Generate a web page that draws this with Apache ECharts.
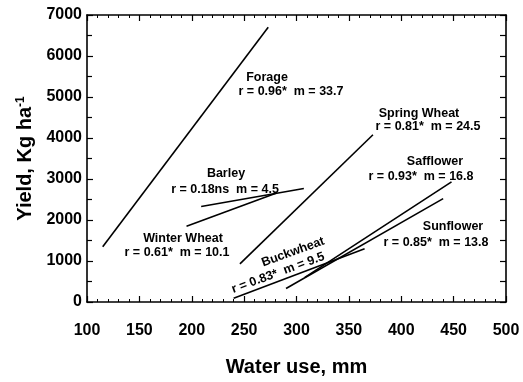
<!DOCTYPE html>
<html>
<head>
<meta charset="utf-8">
<script src="https://cdn.jsdelivr.net/npm/echarts@6/dist/echarts.min.js"></script>
<style>
  html, body { margin: 0; padding: 0; background: #fff; }
  #main { width: 523px; height: 382px; }
</style>
</head>
<body>
<div id="main"></div>
<script>
// regression lines, start and end points
var crops = ['Forage', 'Spring Wheat', 'Barley', 'Winter Wheat', 'Safflower', 'Sunflower', 'Buckwheat']
var startX = [115, 246, 209, 195, 308, 290, 240]
var startY = [1350, 930, 2330, 1850, 600, 330, 90]
var endX = [273, 373, 307, 281, 448, 440, 365]
var endY = [6700, 4080, 2770, 2660, 2930, 2520, 1300]
var stats = ['r = 0.96*  m = 33.7', 'r = 0.81*  m = 24.5', 'r = 0.18ns  m = 4.5', 'r = 0.61*  m = 10.1',
  'r = 0.93*  m = 16.8', 'r = 0.85*  m = 13.8', 'r = 0.83*  m = 9.5']
var xTicks = [100, 150, 200, 250, 300, 350, 400, 450, 500]
var yTicks = [0, 1000, 2000, 3000, 4000, 5000, 6000, 7000]

// label placement in pixels: [name x, name y, stats x, stats y, rotation]
var labelPos = [
  [267, 78, 291, 92, 0],
  [419, 114, 428, 127, 0],
  [226, 174, 225, 190, 0],
  [183, 239, 177, 253, 0],
  [435, 162, 421, 177, 0],
  [453, 227, 436, 243, 0],
  [293, 252, 278, 273, 20]
]

var font = 'Liberation Sans, Arial, sans-serif'
var series = crops.map(function (c, i) {
  return {
    name: c,
    type: 'line',
    data: [[startX[i], startY[i]], [endX[i], endY[i]]],
    symbol: 'none',
    lineStyle: { color: '#000', width: 1.6 },
    xAxisIndex: 0,
    yAxisIndex: 0,
  }
})

var graphics = []
crops.forEach(function (c, i) {
  var p = labelPos[i]
  var rot = p[4] * Math.PI / 180
  graphics.push({
    type: 'text', x: p[0], y: p[1], rotation: rot,
    style: { text: c, font: 'bold 12.5px ' + font, fill: '#000', textAlign: 'center', textVerticalAlign: 'middle' },
  })
  graphics.push({
    type: 'text', x: p[2], y: p[3], rotation: rot,
    style: { text: stats[i], font: 'bold 12.5px ' + font, fill: '#000', textAlign: 'center', textVerticalAlign: 'middle' },
  })
})

var axisLine = { show: true, onZero: false, lineStyle: { color: '#000', width: 1.6 } }
var tick = { show: true, inside: true, length: 6, lineStyle: { color: '#000', width: 1.2 } }
var minor = { show: true, splitNumber: 5, length: 3, lineStyle: { color: '#000', width: 1 } }

var myChart = echarts.init(document.getElementById('main'))
myChart.setOption({
  animation: false,
  backgroundColor: '#fff',
  grid: { left: 87, right: 17, top: 15, bottom: 75 },
  xAxis: [
    {
      type: 'value', min: xTicks[0], max: xTicks[xTicks.length - 1], interval: 50,
      name: 'Water use, mm', nameLocation: 'middle', nameGap: 55,
      nameTextStyle: { fontFamily: font, fontWeight: 'bold', fontSize: 20, color: '#000' },
      axisLine: axisLine, axisTick: tick, minorTick: minor,
      axisLabel: { fontFamily: font, fontWeight: 'bold', fontSize: 16, color: '#000', margin: 21 },
      splitLine: { show: false },
    },
    {
      type: 'value', position: 'top', min: 100, max: 500, interval: 50,
      axisLine: axisLine, axisTick: tick, minorTick: minor,
      axisLabel: { show: false }, splitLine: { show: false },
    },
  ],
  yAxis: [
    {
      type: 'value', min: yTicks[0], max: yTicks[yTicks.length - 1], interval: 1000,
      name: '{a|Yield, Kg ha}{s|-1}', nameLocation: 'middle', nameGap: 46,
      nameTextStyle: {
        rich: {
          a: { fontFamily: font, fontWeight: 'bold', fontSize: 20, color: '#000' },
          s: { fontFamily: font, fontWeight: 'bold', fontSize: 12, color: '#000', verticalAlign: 'top', padding: [0, 0, 10, 0] },
        },
      },
      axisLine: axisLine, axisTick: tick,
      minorTick: { show: true, splitNumber: 2, length: 5, lineStyle: { color: '#000', width: 1.2 } },
      axisLabel: {
        fontFamily: font, fontWeight: 'bold', fontSize: 16, color: '#000', margin: 5,
        formatter: function (v) { return String(v) },
      },
      splitLine: { show: false },
    },
    {
      type: 'value', position: 'right', min: 0, max: 7000, interval: 500,
      axisLine: axisLine, axisTick: tick,
      axisLabel: { show: false }, splitLine: { show: false },
    },
  ],
  series: series,
  graphic: graphics,
})
</script>
</body>
</html>
